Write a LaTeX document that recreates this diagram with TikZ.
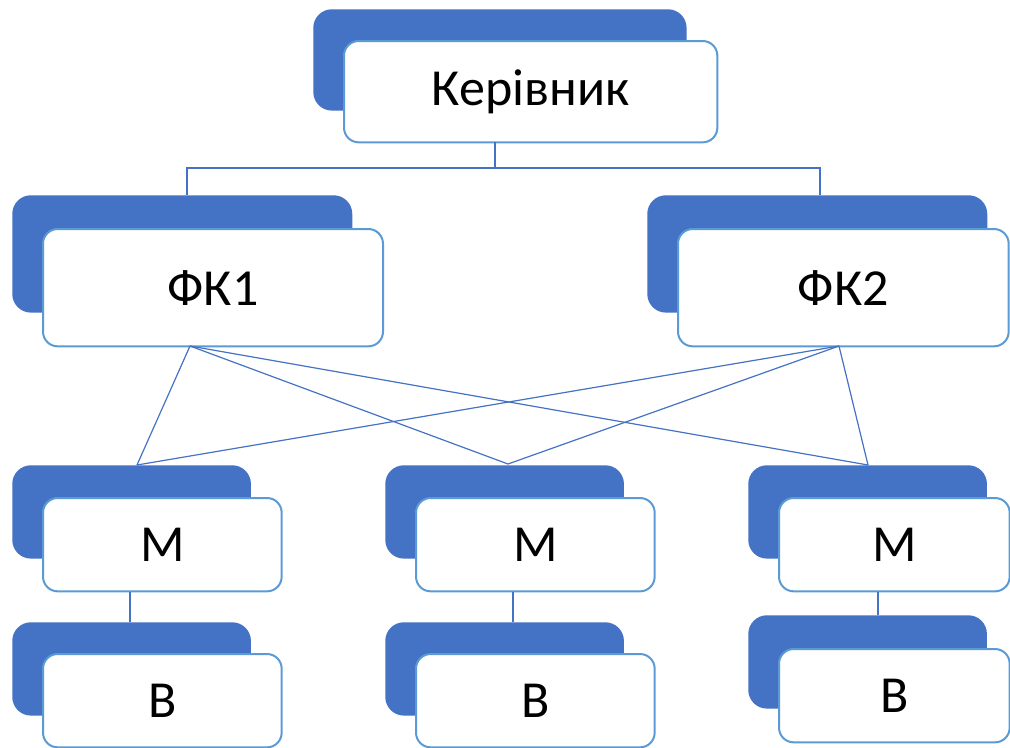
\documentclass[tikz,border=0pt]{standalone}
\usepackage{fontspec}
\setmainfont{Carlito}
\usepackage{tikz}

\definecolor{darkblue}{RGB}{68,114,196}
\definecolor{lightblue}{RGB}{91,155,213}

\tikzset{
  backbox/.style={draw=none,fill=darkblue,rounded corners=14pt,anchor=north west,inner sep=0pt},
  frontbox/.style={draw=lightblue,line width=1.5pt,fill=white,rounded corners=11pt,anchor=north west,inner sep=0pt,font=\fontsize{39}{42}\selectfont},
  kersize/.style={minimum width=280pt,minimum height=76pt},
  fksize/.style={minimum width=255pt,minimum height=88pt},
  msize/.style={minimum width=179pt,minimum height=70pt},
  link/.style={draw=darkblue,line width=0.9pt}
}

\begin{document}
\begin{tikzpicture}[x=0.75pt,y=0.75pt,yscale=-1]
\useasboundingbox (0,0) rectangle (1010,747);

%Shadows
\node[backbox,kersize] (kerb) at (313,9) {};
\node[backbox,fksize] (fk1b) at (12,195) {};
\node[backbox,fksize] (fk2b) at (647,195) {};
\node[backbox,msize] (m1b) at (12,465) {};
\node[backbox,msize] (m2b) at (385,465) {};
\node[backbox,msize] (m3b) at (748,465) {};
\node[backbox,msize] (b1b) at (12,622) {};
\node[backbox,msize] (b2b) at (385,622) {};
\node[backbox,msize] (b3b) at (748,615) {};

%Boxes
\node[frontbox,kersize] (ker) at (343,40) {Керівник};
\node[frontbox,fksize] (fk1) at (42,228) {ФК1};
\node[frontbox,fksize,minimum width=248pt] (fk2) at (677,228) {ФК2};
\node[frontbox,msize] (m1) at (42,497) {М};
\node[frontbox,msize] (m2) at (415,497) {М};
\node[frontbox,msize,minimum width=173pt] (m3) at (778,497) {М};
\node[frontbox,msize] (b1) at (42,653) {В};
\node[frontbox,msize] (b2) at (415,653) {В};
\node[frontbox,msize,minimum width=173pt] (b3) at (778,648) {В};

%Junctions
\coordinate (top) at (495,142);
\coordinate (j1) at (187,168);
\coordinate (j2) at (820,168);
\coordinate (fk1o) at (190,346);
\coordinate (fk2o) at (839,346);
\coordinate (m1i) at (137,465);
\coordinate (m2i) at (508,464);
\coordinate (m3i) at (868,465);

%Connectors
\draw[link] (top) |- (j1) -- (j1 |- fk1b.north);
\draw[link] (top) |- (j2) -- (j2 |- fk2b.north);
\draw[link] (fk1o) -- (m1i);
\draw[link] (fk1o) -- (m2i);
\draw[link] (fk1o) -- (m3i);
\draw[link] (fk2o) -- (m1i);
\draw[link] (fk2o) -- (m2i);
\draw[link] (fk2o) -- (m3i);
\draw[link] (m1.south -| 130,0) -- (130,0 |- b1b.north);
\draw[link] (m2.south -| 513,0) -- (513,0 |- b2b.north);
\draw[link] (m3.south -| 878,0) -- (878,0 |- b3b.north);

\end{tikzpicture}
\end{document}
